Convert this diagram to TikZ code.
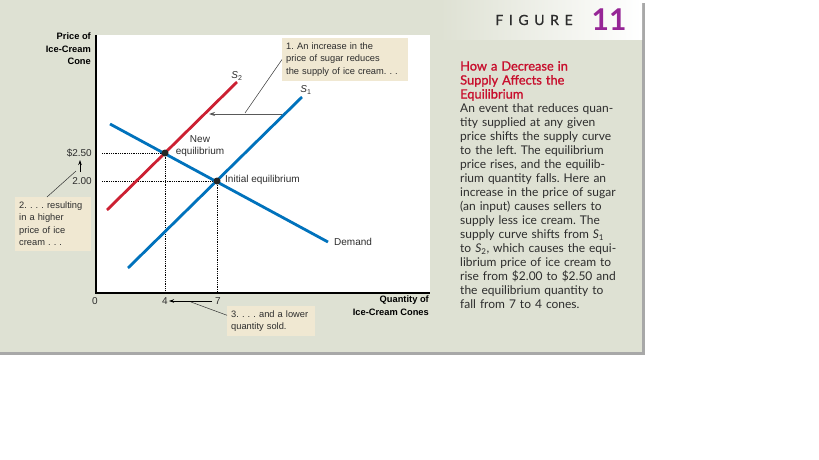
\documentclass[tikz,border=0pt]{standalone}
\usepackage{fontspec}
\setmainfont{Liberation Sans}
\newfontfamily\capfont{Lato}
\newfontfamily\titlefont[FakeBold=1.2]{Lato}
\newfontfamily\figfont[LetterSpace=40, FakeBold=0.8]{Lato}
\usetikzlibrary{positioning, arrows.meta, calc}
\definecolor{panelbg}{RGB}{222,225,211}
\definecolor{panelshade}{RGB}{168,168,168}
\definecolor{notebg}{RGB}{240,232,210}
\definecolor{sblue}{RGB}{0,114,188}
\definecolor{sred}{RGB}{204,32,50}
\definecolor{titlered}{RGB}{200,16,46}
\definecolor{figpurple}{RGB}{150,38,150}
\definecolor{inkgray}{RGB}{45,45,45}
\tikzset{
  axis/.style={line width=1.3pt, black},
  curve/.style={line width=2.8pt},
  guide/.style={densely dotted, line width=0.8pt, black},
  eqdot/.style={circle, fill=black!85, inner sep=0pt, minimum size=7pt},
  plotlbl/.style={font=\fontsize{10}{12}\selectfont, text=inkgray, inner sep=0pt},
  ticklbl/.style={font=\fontsize{10}{12}\selectfont, text=inkgray, inner sep=0pt},
  axlbl/.style={font=\bfseries\fontsize{9.3}{12.75}\selectfont, align=right, inner sep=0pt},
  note/.style={fill=notebg, align=left, anchor=north west, text=inkgray,
    font=\fontsize{9.3}{12.5}\selectfont, inner xsep=4pt, inner ysep=4.5pt},
  lead/.style={line width=0.5pt, black!80},
  shiftarr/.style={line width=0.8pt, black!65, -{Stealth[length=6pt, width=4pt]}},
  movearr/.style={line width=0.8pt, black, -{Stealth[length=5pt, width=3.5pt]}},
}
\newcommand{\sub}[1]{\textit{S}\textsubscript{#1}}
\frenchspacing

\begin{document}
\begin{tikzpicture}[x=1pt, y=-1pt]

% ── Panel ───────────────────────────────────────────────────
\useasboundingbox (0,0) rectangle (819,460);
\fill[panelshade] (0,3) rectangle (645,355);
\fill[panelbg] (0,0) rectangle (642,352);
\shade[left color=panelbg, right color=white] (440,0) rectangle (642,40);
\fill[white] (96,35) rectangle (430,293);

% ── Header ──────────────────────────────────────────────────
\node[font=\figfont\fontsize{14}{14}\selectfont, text=inkgray, inner sep=0pt] (figword) at (534,20) {FIGURE};
\node[font=\capfont\bfseries\fontsize{30}{30}\selectfont, text=figpurple, inner sep=0pt] (fignum) at (609,20) {11};

% ── Axes ────────────────────────────────────────────────────
\coordinate (O) at (96,293);
\coordinate (ytop) at (96,35);
\coordinate (xend) at (430,293);
\draw[axis] (ytop) -- (O) -- (xend);
\node[axlbl, anchor=north east] (ylbl) at (91,32.5) {Price of\\Ice-Cream\\Cone};
\node[axlbl, anchor=north east] (xlbl) at (429,296) {Quantity of\\Ice-Cream Cones};

% ── Ticks ───────────────────────────────────────────────────
\node[ticklbl, anchor=east] (t250) at (92,153) {\$2.50};
\node[ticklbl, anchor=east] (t200) at (92,181) {2.00};
\node[ticklbl] (t0) at (95,301) {0};
\node[ticklbl] (t4) at (165,301) {4};
\node[ticklbl] (t7) at (218,301) {7};

% ── Equilibria ──────────────────────────────────────────────
\coordinate (Enew) at (165,153);
\coordinate (Eini) at (217,181);
\draw[guide] ([xshift=6pt]Enew -| O) -- (Enew) -- (Enew |- O);
\draw[guide] ([xshift=6pt]Eini -| O) -- (Eini) -- (Eini |- O);

% ── Curves ──────────────────────────────────────────────────
\coordinate (sb0) at (107,210);
\coordinate (sb1) at (237,82);
\coordinate (sa0) at (128,268);
\coordinate (sa1) at (302,97);
\coordinate (d0) at (110,124);
\coordinate (d1) at (328,242);
\draw[curve, sred] (sb0) -- (sb1);
\draw[curve, sblue] (sa0) -- (sa1);
\draw[curve, sblue] (d0) -- (d1);
\node[eqdot] (dotnew) at (Enew) {};
\node[eqdot] (dotini) at (Eini) {};

\node[plotlbl] (s2lbl) at (237,76) {\sub{2}};
\node[plotlbl] (s1lbl) at (306,90) {\sub{1}};
\node[plotlbl, anchor=west] (dlbl) at (334,242) {Demand};
\node[plotlbl, align=center] (newlbl) at (200,146) {New\\equilibrium};
\node[plotlbl, anchor=west] (inilbl) at (225,180) {Initial equilibrium};

% ── Shifts ──────────────────────────────────────────────────
\coordinate (shiftA) at (282,114);
\coordinate (shiftB) at (209,114);
\draw[shiftarr] (shiftA) -- (shiftB);
\coordinate (p200) at (80,172);
\coordinate (p250) at (80,160);
\draw[movearr] (p200) -- (p250);
\draw[movearr] ([xshift=-3pt]t7.west) -- ([xshift=1pt]t4.east);

% ── Notes ───────────────────────────────────────────────────
\node[note, text width=118pt] (n1) at (282,38) {1. An increase in the\\price of sugar reduces\\the supply of ice cream. . .};
\node[note, text width=68pt] (n2) at (15,197) {2. . . . resulting\\in a higher\\price of ice\\cream . . .};
\node[note, text width=80pt] (n3) at (227,306) {3. . . . and a lower\\quantity sold.};
\coordinate (lead1) at (245,113);
\coordinate (lead2) at (76,171);
\coordinate (lead3) at (191,302);
\draw[lead] (lead1) -- (n1.west);
\draw[lead] ([xshift=32pt]n2.north west) -- (lead2);
\draw[lead] (lead3) -- ([yshift=6pt]n3.west);

% ── Caption ─────────────────────────────────────────────────
\node[anchor=north west, inner sep=0pt, align=left, text width=180pt, text=inkgray,
  font=\capfont\fontsize{12}{14}\selectfont] (cap) at (460,61)
  {{\color{titlered}\titlefont\fontsize{12.8}{14}\selectfont How a Decrease in\\Supply Affects the\\Equilibrium}\\
   An event that reduces quan-\\tity supplied at any given\\price shifts the supply curve\\
   to the left. The equilibrium\\price rises, and the equilib-\\rium quantity falls. Here an\\
   increase in the price of sugar\\(an input) causes sellers to\\supply less ice cream. The\\
   supply curve shifts from \sub{1}\\to \sub{2}, which causes the equi-\\librium price of ice cream to\\
   rise from \$2.00 to \$2.50 and\\the equilibrium quantity to\\fall from 7 to 4 cones.};

\end{tikzpicture}
\end{document}
